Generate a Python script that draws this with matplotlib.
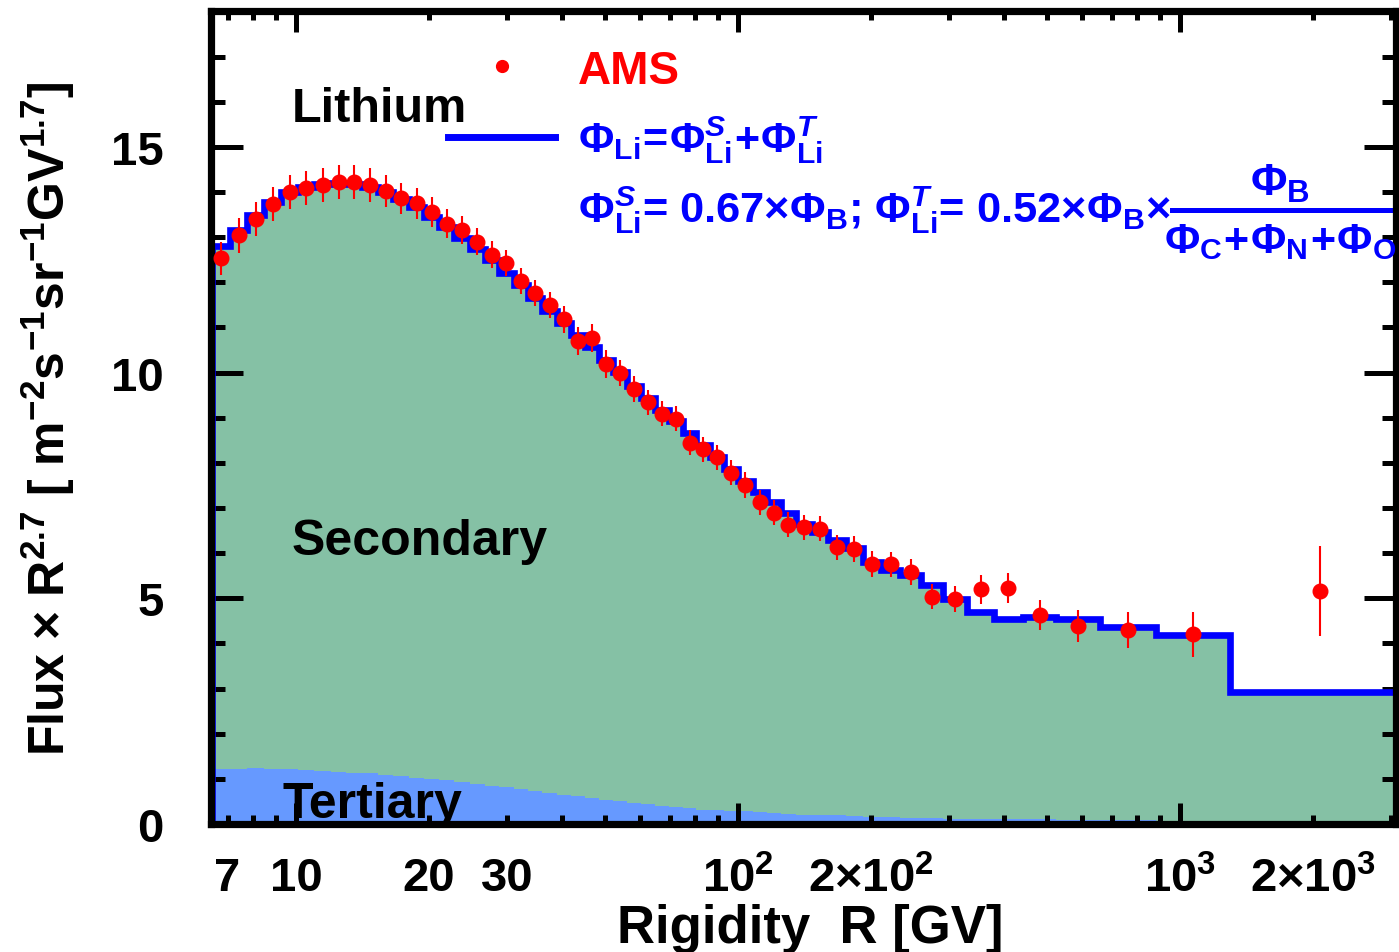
import numpy as np
import matplotlib
matplotlib.use('Agg')
import matplotlib.pyplot as plt
from matplotlib.ticker import FixedLocator, FixedFormatter

plt.rcParams['font.family'] = ['Liberation Sans', 'DejaVu Sans']
plt.rcParams['font.weight'] = 'bold'
plt.rcParams['mathtext.fontset'] = 'custom'
plt.rcParams['mathtext.rm'] = 'Liberation Sans:bold'
plt.rcParams['mathtext.it'] = 'Liberation Sans:bold:italic'
plt.rcParams['mathtext.bf'] = 'Liberation Sans:bold'
plt.rcParams['mathtext.sf'] = 'Liberation Sans'
plt.rcParams['mathtext.default'] = 'rm'

# rigidity bins [GV]
edges = np.array([6.47, 7.09, 7.76, 8.48, 9.26, 10.1, 11.0, 12.0, 13.0, 14.1,
                  15.3, 16.6, 18.0, 19.5, 21.1, 22.8, 24.7, 26.7, 28.8, 31.1,
                  33.5, 36.1, 38.9, 41.9, 45.1, 48.5, 52.2, 56.1, 60.3, 64.8,
                  69.7, 74.9, 80.5, 86.5, 93.0, 100, 108, 116, 125, 135,
                  147, 160, 175, 192, 211, 233, 259, 291, 330, 379,
                  441, 525, 660, 880, 1300, 3300])

# AMS lithium flux x R^2.7
ams_flux = [12.53, 13.04, 13.41, 13.74, 14.00, 14.09, 14.15, 14.23, 14.23, 14.16,
            14.02, 13.86, 13.75, 13.55, 13.30, 13.16, 12.90, 12.61, 12.42, 12.03,
            11.77, 11.49, 11.18, 10.71, 10.76, 10.19, 10.00, 9.63, 9.34, 9.09,
            8.98, 8.45, 8.30, 8.12, 7.78, 7.51, 7.13, 6.90, 6.63, 6.57,
            6.54, 6.13, 6.09, 5.76, 5.75, 5.58, 5.04, 4.99, 5.20, 5.23,
            4.63, 4.39, 4.30, 4.20, 5.16]
ams_err = [0.37, 0.38, 0.38, 0.38, 0.38, 0.38, 0.38, 0.38, 0.38, 0.37,
           0.36, 0.35, 0.34, 0.33, 0.32, 0.31, 0.30, 0.30, 0.29, 0.29,
           0.29, 0.29, 0.30, 0.31, 0.31, 0.30, 0.29, 0.29, 0.28, 0.28,
           0.28, 0.28, 0.28, 0.28, 0.28, 0.28, 0.28, 0.28, 0.28, 0.28,
           0.28, 0.28, 0.28, 0.28, 0.28, 0.29, 0.28, 0.29, 0.32, 0.34,
           0.33, 0.36, 0.40, 0.50, 1.00]

# model: total (secondary + tertiary) and tertiary part
model_total = [12.80, 13.16, 13.49, 13.79, 14.00, 14.12, 14.18, 14.20, 14.18, 14.12,
               14.00, 13.84, 13.66, 13.45, 13.22, 12.98, 12.74, 12.49, 12.21, 11.93,
               11.65, 11.37, 11.10, 10.84, 10.57, 10.29, 10.01, 9.70, 9.43, 9.17,
               8.92, 8.67, 8.40, 8.13, 7.86, 7.60, 7.35, 7.14, 6.88, 6.65,
               6.46, 6.30, 6.11, 5.80, 5.62, 5.52, 5.29, 4.99, 4.70, 4.54,
               4.58, 4.54, 4.37, 4.19, 2.93]
model_tertiary = [1.21, 1.22, 1.23, 1.22, 1.21, 1.20, 1.18, 1.16, 1.14, 1.12,
                  1.09, 1.06, 1.03, 1.00, 0.97, 0.93, 0.89, 0.85, 0.81, 0.77,
                  0.73, 0.69, 0.65, 0.61, 0.57, 0.53, 0.50, 0.47, 0.44, 0.41,
                  0.38, 0.35, 0.32, 0.30, 0.28, 0.28, 0.26, 0.24, 0.22, 0.21,
                  0.20, 0.19, 0.17, 0.16, 0.15, 0.14, 0.13, 0.12, 0.11, 0.11,
                  0.10, 0.09, 0.08, 0.07, 0.05]

centers = np.sqrt(edges[:-1] * edges[1:])

fig = plt.figure(figsize=(13.99, 9.53), dpi=100)
ax = fig.add_axes([0.1508, 0.1343, 0.8471, 0.8526])

ax.stairs(model_total, edges, fill=True, color='#85c1a5', lw=0, zorder=1)
ax.stairs(model_tertiary, edges, fill=True, color='#6699ff', lw=0, zorder=1.1)
ax.stairs(model_total, edges, baseline=0, color='#0000ff', lw=4.8, zorder=2)
ax.errorbar(centers, ams_flux, yerr=ams_err, fmt='o', color='#ff0000',
            ms=10.5, elinewidth=1.5, capsize=0, zorder=4)

ax.set_xscale('log')
ax.set_xlim(6.42, 3080)
ax.set_ylim(0, 18)

ax.xaxis.set_major_locator(FixedLocator([10, 100, 1000]))
ax.xaxis.set_major_formatter(FixedFormatter(['10', r'$10^{2}$', r'$10^{3}$']))
minor_x = [7, 8, 9, 20, 30, 40, 50, 60, 70, 80, 90,
           200, 300, 400, 500, 600, 700, 800, 900, 2000, 3000]
minor_lab = ['7', '', '', '20', '30', '', '', '', '', '', '',
             r'$2\mathsf{\times}10^{2}$', '', '', '', '', '', '', '',
             r'$2\mathsf{\times}10^{3}$', '']
ax.xaxis.set_minor_locator(FixedLocator(minor_x))
ax.xaxis.set_minor_formatter(FixedFormatter(minor_lab))
ax.yaxis.set_major_locator(FixedLocator([0, 5, 10, 15]))
ax.yaxis.set_minor_locator(FixedLocator(range(0, 19)))

ax.tick_params(axis='x', which='both', direction='in', top=True, width=3.6,
               labelsize=34, pad=23)
ax.tick_params(axis='x', which='major', length=15)
ax.tick_params(axis='x', which='minor', length=6.5)
ax.tick_params(axis='y', which='both', direction='in', right=True, width=3.6,
               labelsize=34, pad=34)
ax.tick_params(axis='y', which='major', length=23)
ax.tick_params(axis='y', which='minor', length=10)
for s in ax.spines.values():
    s.set_linewidth(5.2)

ax.set_xlabel('Rigidity  R [GV]', fontsize=38, fontweight='bold')
ax.xaxis.set_label_coords(0.506, -0.097)
ax.set_ylabel(r'Flux $\mathsf{\times}$ R$^{2.7}$ [ m$^{-2}$s$^{-1}$sr$^{-1}$GV$^{1.7}$]',
              fontsize=36, fontweight='bold')
ax.yaxis.set_label_coords(-0.113, 0.5)

tr = ax.transAxes
ax.text(0.0684, 0.865, 'Lithium', transform=tr, fontsize=35, va='baseline')
ax.text(0.0684, 0.332, 'Secondary', transform=tr, fontsize=36, va='baseline')
ax.text(0.060, 0.0086, 'Tertiary', transform=tr, fontsize=36, va='baseline')

# legend
ax.plot([0.2456], [0.933], 'o', color='#ff0000', ms=8.5, transform=tr, clip_on=False)
ax.text(0.3097, 0.912, 'AMS', transform=tr, fontsize=33, color='#ff0000', va='baseline')
ax.plot([0.200, 0.2903], [0.8455, 0.8455], color='#0000ff', lw=5, transform=tr)

blue = '#0000ff'
ax.text(0.3097, 0.828, r'$\Phi_{Li}\!=\!\Phi^{\mathit{S}}_{Li}\!+\!\Phi^{\mathit{T}}_{Li}$',
        transform=tr, fontsize=31, color=blue, va='baseline')
ax.text(0.3097, 0.742,
        r'$\Phi^{\mathit{S}}_{Li}$= 0.67$\mathsf{\times}\Phi_{B}$; '
        r'$\Phi^{\mathit{T}}_{Li}$= 0.52$\mathsf{\times}\Phi_{B}\mathsf{\times}$',
        transform=tr, fontsize=31.2, color=blue, va='baseline')
ax.text(0.902, 0.774, r'$\Phi_{B}$', transform=tr, fontsize=32, color=blue,
        ha='center', va='baseline')
ax.plot([0.811, 0.995], [0.756, 0.756], color=blue, lw=3.6, transform=tr)
ax.text(0.902, 0.704, r'$\Phi_{C}\!+\!\Phi_{N}\!+\!\Phi_{O}$', transform=tr,
        fontsize=31, color=blue, ha='center', va='baseline')

fig.savefig('out.png', dpi=100)
